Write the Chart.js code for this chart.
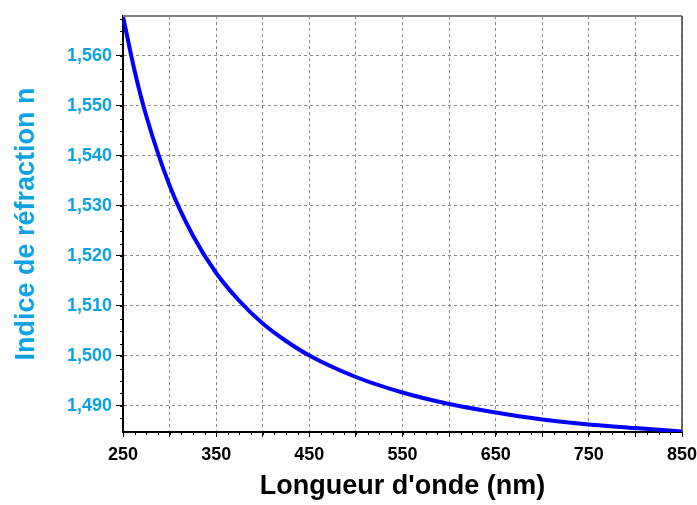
<!DOCTYPE html>
<html>
<head>
<meta charset="utf-8">
<script src="https://cdn.jsdelivr.net/npm/chart.js@4"></script>
<style>
  html, body { margin: 0; padding: 0; background: #fff; }
  #wrap { width: 697px; height: 505px; }
</style>
</head>
<body>
<div id="wrap"><canvas id="chart" width="697" height="505"></canvas></div>
<script>
// Valeurs
const wavelengths = [250, 262.5, 275, 300, 325, 350, 375, 400, 425, 450, 500, 550, 600, 650, 700, 750, 800, 850];
const refractiveIndex = [1.5679, 1.5570, 1.5480, 1.5341, 1.5241, 1.5166, 1.5110, 1.5065, 1.5030, 1.5001, 1.4958, 1.4927, 1.4904, 1.4887, 1.4873, 1.4863, 1.4856, 1.4849];
const xLabels = [250, 350, 450, 550, 650, 750, 850];
const yLabels = [1.490, 1.500, 1.510, 1.520, 1.530, 1.540, 1.550, 1.560];

const blueText = '#0DA2E4';
const labelFont = "'Liberation Sans', Arial, sans-serif";

// petites graduations + cadre haut/droite
const frameAndMinorTicks = {
  id: 'frameAndMinorTicks',
  afterDraw(chart) {
    const ctx = chart.ctx;
    const area = chart.chartArea;
    const xs = chart.scales.x;
    const ys = chart.scales.y;
    ctx.save();
    ctx.strokeStyle = '#000';
    ctx.lineWidth = 1;
    ctx.beginPath();
    for (let v = 250; v <= 850; v += 12.5) {
      const px = Math.round(xs.getPixelForValue(v)) + 0.5;
      ctx.moveTo(px, area.bottom);
      ctx.lineTo(px, area.bottom + 3);
    }
    for (let v = 1.4875; v <= 1.568; v += 0.0025) {
      const py = Math.round(ys.getPixelForValue(v)) + 0.5;
      ctx.moveTo(area.left - 3, py);
      ctx.lineTo(area.left, py);
    }
    ctx.stroke();
    ctx.strokeStyle = '#808080';
    ctx.lineWidth = 2;
    ctx.beginPath();
    ctx.moveTo(area.left, area.top);
    ctx.lineTo(area.right, area.top);
    ctx.stroke();
    ctx.strokeStyle = '#404040';
    ctx.lineWidth = 1.5;
    ctx.beginPath();
    ctx.moveTo(area.right, area.top);
    ctx.lineTo(area.right, area.bottom);
    ctx.stroke();
    ctx.restore();
  }
};

const ctx = document.getElementById('chart').getContext('2d');
new Chart(ctx, {
  type: 'scatter',
  data: {
    datasets: [{
      data: wavelengths.map((w, i) => ({ x: w, y: refractiveIndex[i] })),
      showLine: true,
      borderColor: '#0000FF',
      borderWidth: 4,
      pointRadius: 0,
      cubicInterpolationMode: 'monotone'
    }]
  },
  options: {
    responsive: false,
    animation: false,
    layout: { padding: { top: 16, right: 15, left: 0, bottom: 0 } },
    plugins: {
      legend: { display: false },
      tooltip: { enabled: false }
    },
    scales: {
      x: {
        type: 'linear',
        min: 250,
        max: 850,
        afterFit: (scale) => {
          scale.height = 73;
          scale.paddingRight = 0;
          scale.paddingLeft = 0;
        },
        afterBuildTicks: (scale) => {
          const vals = [];
          for (let v = 250; v <= 850; v += 50) vals.push({ value: v });
          scale.ticks = vals;
        },
        ticks: {
          autoSkip: false,
          maxRotation: 0,
          color: '#000',
          padding: 7,
          font: { family: labelFont, size: 18, weight: 'bold' },
          callback: (v) => xLabels.includes(v) ? String(v) : ''
        },
        grid: {
          color: '#8a8a8a',
          lineWidth: 1,
          drawTicks: true,
          tickLength: 5,
          tickColor: '#000',
          tickBorderDash: []
        },
        border: { color: '#000', width: 2, dash: [3, 3] },
        title: {
          display: true,
          text: "Longueur d'onde (nm)",
          color: '#000',
          font: { family: labelFont, size: 27, weight: 'bold' },
          padding: { top: 0, bottom: 2 }
        }
      },
      y: {
        type: 'linear',
        min: 1.4848,
        max: 1.568,
        afterFit: (scale) => {
          scale.width = 123;
          scale.paddingTop = 0;
          scale.paddingBottom = 0;
        },
        afterBuildTicks: (scale) => {
          scale.ticks = yLabels.map(v => ({ value: v }));
        },
        ticks: {
          color: blueText,
          padding: 4,
          font: { family: labelFont, size: 18, weight: 'bold' },
          callback: (v) => v.toFixed(3).replace('.', ',')
        },
        grid: {
          color: '#8a8a8a',
          lineWidth: 1,
          drawTicks: true,
          tickLength: 7,
          tickColor: '#000',
          tickBorderDash: []
        },
        border: { color: '#000', width: 2, dash: [3, 3] },
        title: {
          display: true,
          text: 'Indice de réfraction n',
          color: blueText,
          font: { family: labelFont, size: 27, weight: 'bold' },
          padding: { top: 10, bottom: 0 }
        }
      }
    }
  },
  plugins: [frameAndMinorTicks]
});
</script>
</body>
</html>
